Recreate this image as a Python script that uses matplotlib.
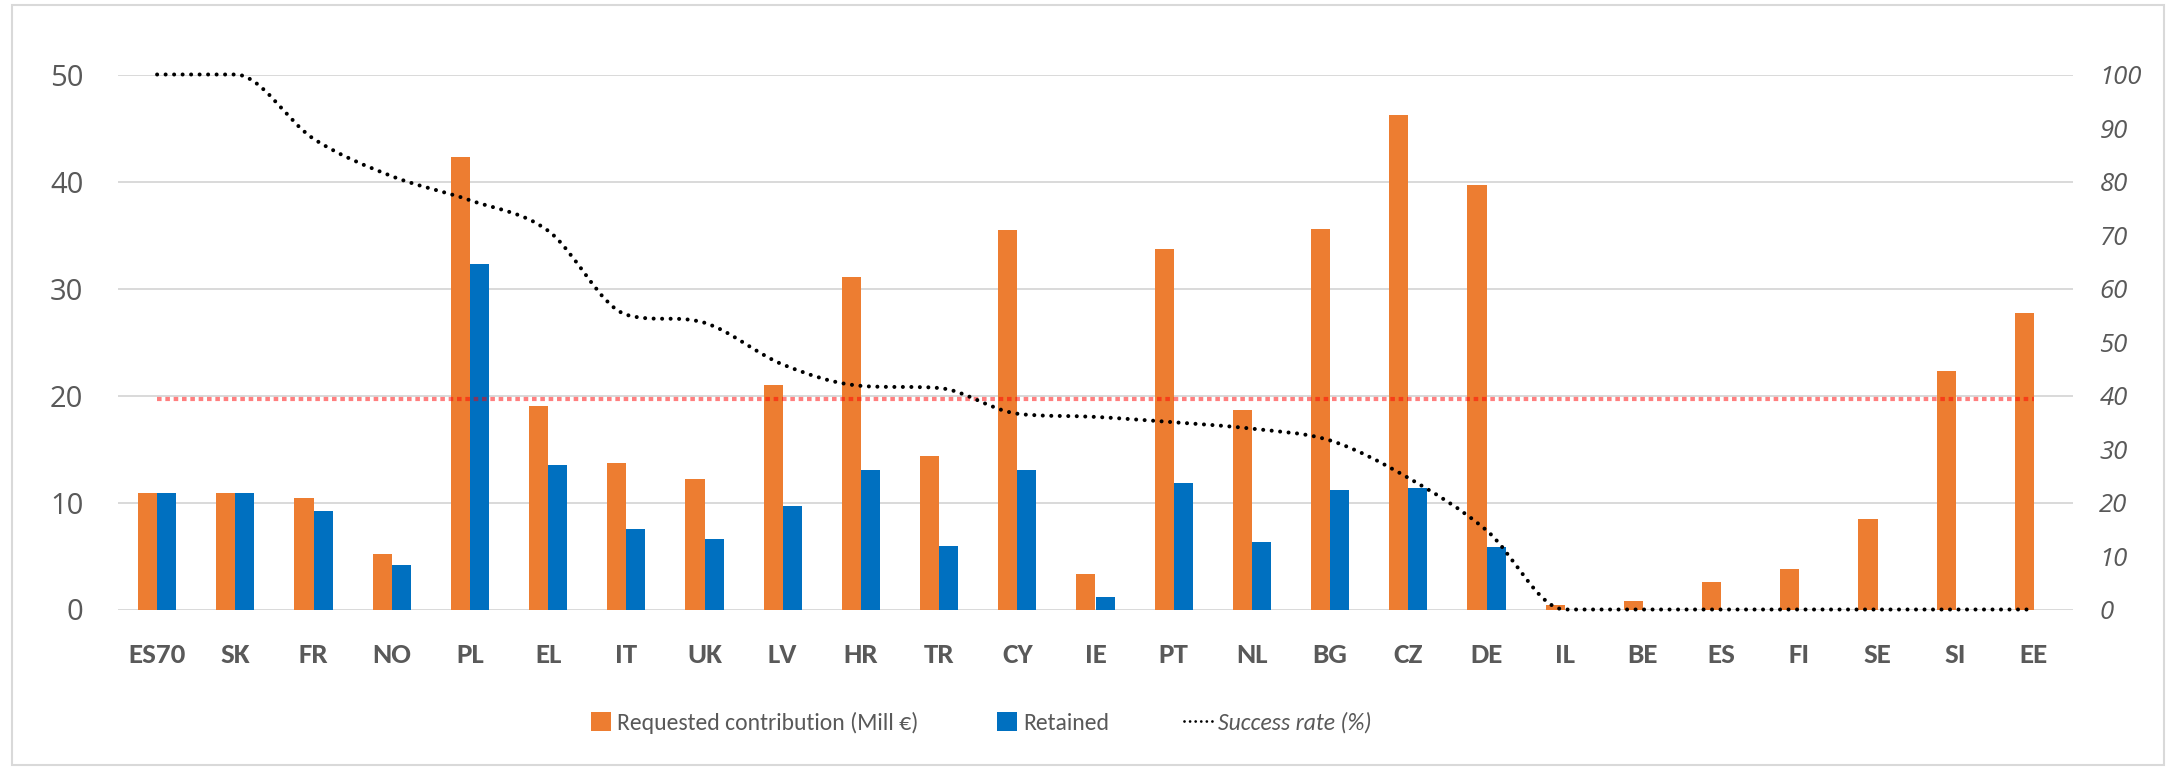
import matplotlib
matplotlib.use("Agg")
import matplotlib.pyplot as plt
from matplotlib.path import Path
from matplotlib.patches import PathPatch, Patch, Rectangle
from matplotlib.lines import Line2D

# ---------------- data ----------------
categories = ['ES70', 'SK', 'FR', 'NO', 'PL', 'EL', 'IT', 'UK', 'LV', 'HR', 'TR', 'CY', 'IE',
              'PT', 'NL', 'BG', 'CZ', 'DE', 'IL', 'BE', 'ES', 'FI', 'SE', 'SI', 'EE']
requested = [10.9, 10.85, 10.45, 5.2, 42.3, 19.0, 13.7, 12.2, 21.0, 31.1, 14.3, 35.45, 3.3,
             33.65, 18.6, 35.6, 46.2, 39.7, 0.45, 0.75, 2.55, 3.75, 8.45, 22.3, 27.75]
retained = [10.9, 10.85, 9.25, 4.2, 32.25, 13.5, 7.55, 6.55, 9.65, 13.0, 5.95, 13.0, 1.2,
            11.8, 6.3, 11.15, 11.4, 5.85, 0, 0, 0, 0, 0, 0, 0]
success_rate = [100, 100, 88.0, 81.0, 76.5, 70.8, 55.1, 53.6, 45.8, 41.8, 41.4, 36.6, 36.0,
                35.0, 33.8, 31.6, 24.6, 14.8, 0, 0, 0, 0, 0, 0, 0]
threshold = 19.7
left_ticks = [0, 10, 20, 30, 40, 50]
right_ticks = [0, 10, 20, 30, 40, 50, 60, 70, 80, 90, 100]
legend_labels = ['Requested contribution (Mill €)', 'Retained', 'Success rate (%)']

ORANGE = '#ED7D31'
BLUE = '#0070C0'
GRID = '#D9D9D9'
TXT = '#595959'
CAL = ['Carlito', 'DejaVu Sans']
TICKF = ['Open Sans', 'DejaVu Sans']
W, H = 2172, 769

fig = plt.figure(figsize=(21.72, 7.69), dpi=100)
ax = fig.add_axes([118 / W, 1 - 609.5 / H, (2073 - 118) / W, (609.5 - 74.5) / H])

x = list(range(len(categories)))
w = 0.245
ax.bar([i - w / 2 for i in x], requested, width=w, color=ORANGE, zorder=2)
ax.bar([i + w / 2 for i in x], retained, width=w, color=BLUE, zorder=2)

ax.plot(x, [threshold] * len(x), color='#FF0000', alpha=0.5, lw=3.0,
        linestyle=(0, (1.1, 0.9)), dash_capstyle='butt', zorder=3)

ax.set_xlim(-0.5, len(categories) - 0.5)
ax.set_ylim(0, 50)
ax.set_yticks(left_ticks)
ax.set_yticklabels([str(v) for v in left_ticks], family=TICKF, fontsize=21, color=TXT)
ax.set_xticks(x)
ax.set_xticklabels(categories, family=CAL, fontweight='bold', fontsize=21, color=TXT)
ax.tick_params(axis='x', length=0, pad=24)
ax.tick_params(axis='y', length=0, pad=25)
ax.yaxis.grid(True, color=GRID, lw=1.4, zorder=0)
ax.set_axisbelow(True)
for s in ax.spines.values():
    s.set_visible(False)

ax2 = ax.twinx()
ax2.set_ylim(0, 100)
ax2.set_yticks(right_ticks)
ax2.set_yticklabels([str(v) for v in right_ticks], family=TICKF, fontsize=18.5,
                    fontstyle='italic', color=TXT)
ax2.tick_params(axis='y', length=0, pad=19)
for s in ax2.spines.values():
    s.set_visible(False)

# smoothed success-rate line: Bezier segments with monotone (non-overshooting) tangents
n = len(x)
d = [success_rate[i + 1] - success_rate[i] for i in range(n - 1)]
m = []
for i in range(n):
    if i == 0:
        m.append(0.0 if d[0] == 0 else d[0])
    elif i == n - 1:
        m.append(0.0 if d[-1] == 0 else d[-1])
    else:
        a, b = d[i - 1], d[i]
        if a * b <= 0:
            m.append(0.0)
        else:
            t = (a + b) / 2
            lim = 3 * min(abs(a), abs(b))
            m.append(max(-lim, min(lim, t)))
verts = [(x[0], success_rate[0])]
codes = [Path.MOVETO]
for i in range(n - 1):
    verts += [(x[i] + 1 / 3, success_rate[i] + m[i] / 3),
              (x[i + 1] - 1 / 3, success_rate[i + 1] - m[i + 1] / 3),
              (x[i + 1], success_rate[i + 1])]
    codes += [Path.CURVE4] * 3
patch = PathPatch(Path(verts, codes), fill=False, edgecolor='black', lw=2.9,
                  linestyle=(0, (0.01, 2.1)), capstyle='round', zorder=4, clip_on=False)
ax2.add_patch(patch)

# legend: three entries placed individually
handles = [Patch(facecolor=ORANGE, edgecolor='none'),
           Patch(facecolor=BLUE, edgecolor='none'),
           Line2D([], [], color='black', lw=2.0, linestyle=(0, (0.01, 2.0)), dash_capstyle='round')]
left_px = [591, 997, 1184]
hlen = [0.85, 0.85, 1.2]
for k in range(3):
    lg = fig.legend([handles[k]], [legend_labels[k]], loc='center left',
                    bbox_to_anchor=(left_px[k] / W, 1 - 723 / H), frameon=False,
                    prop={'family': CAL, 'size': 17}, borderpad=0, borderaxespad=0,
                    handlelength=hlen[k], handleheight=0.85, handletextpad=0.25)
    txt = lg.get_texts()[0]
    txt.set_color(TXT)
    if k == 2:
        txt.set_fontstyle('italic')

fig.patches.append(Rectangle((12 / W, 4 / H), (2164 - 12) / W, (764 - 4) / H,
                             transform=fig.transFigure, fill=False, edgecolor=GRID, lw=1.5))

fig.savefig('out.png', dpi=100, facecolor='white')
